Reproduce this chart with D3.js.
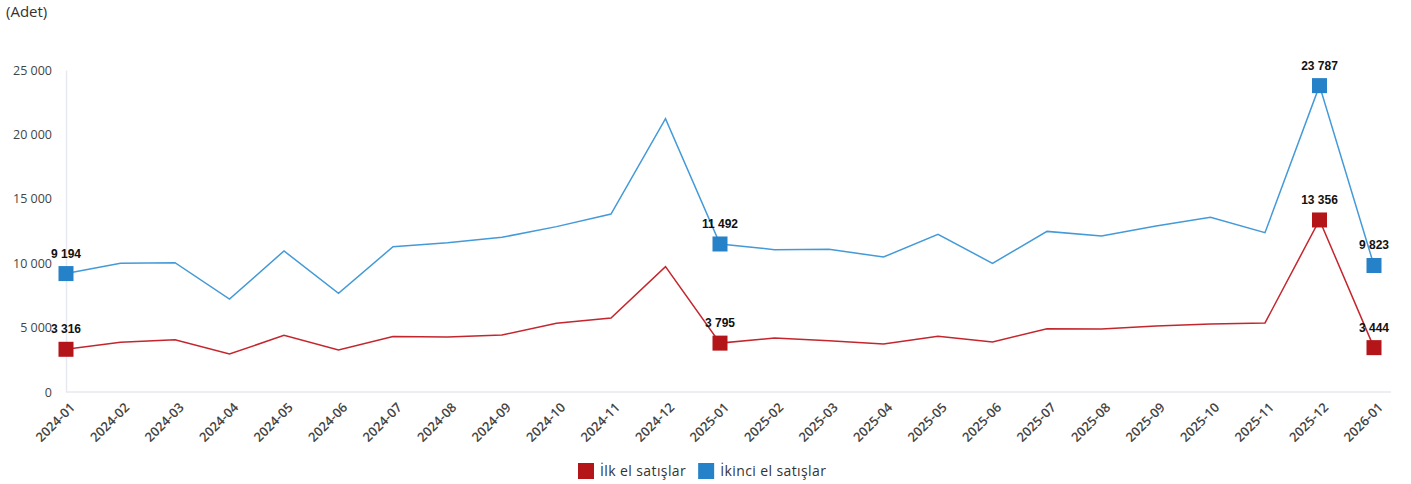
<!DOCTYPE html>
<html>
<head>
<meta charset="utf-8">
<script src="https://cdn.jsdelivr.net/npm/d3@7"></script>
<style>
  body { margin: 0; background: #fff; }
  svg { display: block; }
  .tick text { fill: #444; }
</style>
</head>
<body>
<svg id="chart" width="1411" height="484"></svg>
<script>
var months = ["2024-01", "2024-02", "2024-03", "2024-04", "2024-05", "2024-06", "2024-07", "2024-08", "2024-09", "2024-10", "2024-11", "2024-12",
  "2025-01", "2025-02", "2025-03", "2025-04", "2025-05", "2025-06", "2025-07", "2025-08", "2025-09", "2025-10", "2025-11", "2025-12", "2026-01"];
var firstHand = [3316, 3860, 4060, 2950, 4400, 3260, 4300, 4270, 4430, 5330, 5750, 9730,
  3795, 4190, 3980, 3730, 4320, 3880, 4910, 4890, 5120, 5280, 5360, 13356, 3444];
var secondHand = [9194, 9990, 10040, 7220, 10950, 7660, 11280, 11590, 12010, 12840, 13820, 21220,
  11492, 11050, 11080, 10480, 12240, 9990, 12470, 12110, 12890, 13560, 12370, 23787, 9823];
var yTicks = [0, 5000, 10000, 15000, 20000, 25000];
var markedIdx = [0, 12, 23, 24];
var seriesNames = ["İlk el satışlar", "İkinci el satışlar"];

var series = [
  { name: seriesNames[0], values: firstHand, line: "#c4262d", mark: "#b31519" },
  { name: seriesNames[1], values: secondHand, line: "#449ad8", mark: "#2581c8" }
];

var svg = d3.select("#chart");
var margin = { left: 66, right: 37, top: 70, bottom: 92 };
var width = 1411, height = 484;

var x = d3.scalePoint().domain(months).range([margin.left, width - margin.right]);
var y = d3.scaleLinear().domain([0, 25000]).range([height - margin.bottom, margin.top]);

function fmt(v) { return d3.format(",")(v).replace(/,/g, " "); }

svg.append("text").attr("x", 6).attr("y", 17)
  .style("font-family", "'Open Sans', sans-serif").style("font-size", "15px").attr("fill", "#333")
  .text("(Adet)");

// y axis
var yAxis = svg.append("g").attr("transform", "translate(" + margin.left + ",0)")
  .call(d3.axisLeft(y).tickValues(yTicks).tickSize(0).tickPadding(14).tickFormat(fmt));
yAxis.select(".domain").attr("stroke", "#e6e9ef").attr("stroke-width", 1.5);
yAxis.selectAll("text").style("font-family", "'Open Sans', sans-serif").style("font-size", "12.5px").attr("fill", "#333");

// x axis
var xAxis = svg.append("g").attr("transform", "translate(0," + y(0) + ")")
  .call(d3.axisBottom(x).tickSize(0).tickPadding(0));
xAxis.select(".domain").attr("stroke", "#e6e9ef").attr("stroke-width", 1.5)
  .attr("d", "M" + margin.left + ",0H" + (width - 20));
xAxis.selectAll("text")
  .style("font-family", "'Open Sans', sans-serif").style("font-size", "13px").style("font-weight", "600")
  .attr("fill", "#555")
  .attr("text-anchor", "end")
  .attr("transform", "translate(6,13) rotate(-45)")
  .attr("dy", "0.35em").attr("y", 0);

var line = d3.line().x(function(d, i) { return x(months[i]); }).y(function(d) { return y(d); });

series.forEach(function(s) {
  svg.append("path").datum(s.values).attr("d", line)
    .attr("fill", "none").attr("stroke", s.line).attr("stroke-width", 1.5);
  var g = svg.append("g");
  markedIdx.forEach(function(i) {
    g.append("rect")
      .attr("x", x(months[i]) - 7.5).attr("y", y(s.values[i]) - 7.5)
      .attr("width", 15).attr("height", 15).attr("fill", s.mark);
    g.append("text")
      .attr("x", x(months[i])).attr("y", y(s.values[i]) - 16)
      .attr("text-anchor", "middle")
      .style("font-family", "'Liberation Sans', Arial, sans-serif").style("font-size", "12px").style("font-weight", "bold")
      .attr("fill", "#111")
      .text(fmt(s.values[i]));
  });
});

// legend
var legend = svg.append("g").attr("transform", "translate(578,463)");
var lx = 0;
series.forEach(function(s) {
  var item = legend.append("g").attr("transform", "translate(" + lx + ",0)");
  item.append("rect").attr("width", 16).attr("height", 16).attr("fill", s.mark);
  var t = item.append("text").attr("x", 22).attr("y", 13)
    .style("font-family", "'Open Sans', sans-serif").style("font-size", "14px")
    .style("letter-spacing", "0.4px").attr("fill", "#333")
    .text(s.name);
  lx += 22 + t.node().getComputedTextLength() + 12;
});
</script>
</body>
</html>
